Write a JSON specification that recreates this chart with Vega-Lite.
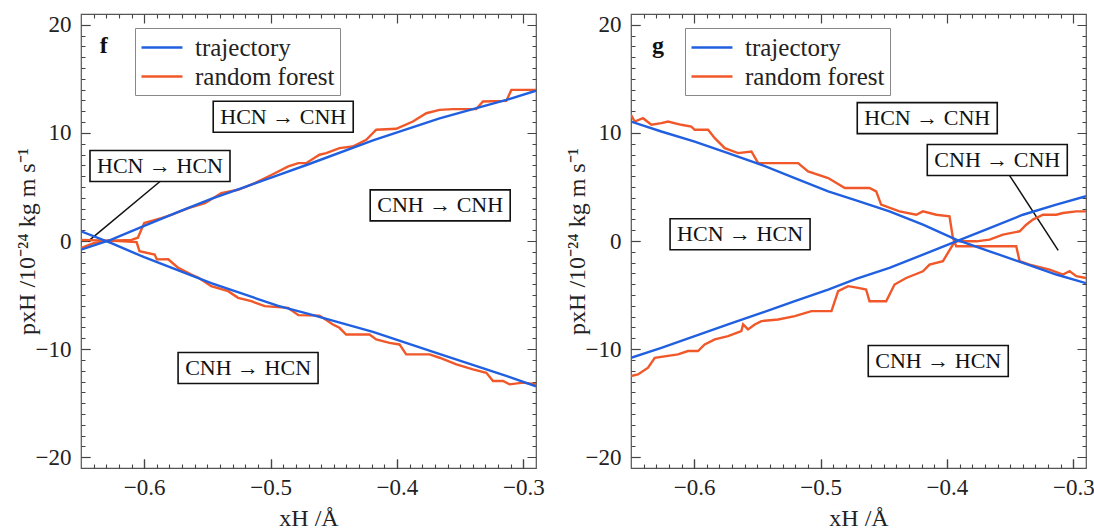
{
  "$schema": "https://vega.github.io/schema/vega-lite/v6.json",
  "background": "white",
  "padding": {"left": 14, "top": 13, "right": 5, "bottom": 0},
  "spacing": 19,
  "config": {
    "font": "Liberation Serif",
    "view": {"stroke": "#555", "strokeWidth": 1.2},
    "axis": {"domain": false, "labelColor": "#222", "labelFont": "Liberation Serif", "labelFontSize": 23, "titleFont": "Liberation Serif", "titleFontSize": 24, "titleFontWeight": "normal", "titleColor": "#222"}
  },
  "datasets": {
    "f_lines": [
      {"x": -0.65, "p": 0.9, "series": "trajectory", "branch": "a"},
      {"x": -0.626, "p": -0.2, "series": "trajectory", "branch": "a"},
      {"x": -0.6, "p": -1.5, "series": "trajectory", "branch": "a"},
      {"x": -0.547, "p": -3.9, "series": "trajectory", "branch": "a"},
      {"x": -0.494, "p": -6.0, "series": "trajectory", "branch": "a"},
      {"x": -0.47, "p": -6.75, "series": "trajectory", "branch": "a"},
      {"x": -0.419, "p": -8.4, "series": "trajectory", "branch": "a"},
      {"x": -0.3666, "p": -10.45, "series": "trajectory", "branch": "a"},
      {"x": -0.313, "p": -12.5, "series": "trajectory", "branch": "a"},
      {"x": -0.29, "p": -13.45, "series": "trajectory", "branch": "a"},
      {"x": -0.65, "p": -0.8, "series": "trajectory", "branch": "b"},
      {"x": -0.626, "p": 0.13, "series": "trajectory", "branch": "b"},
      {"x": -0.6, "p": 1.4, "series": "trajectory", "branch": "b"},
      {"x": -0.573, "p": 2.7, "series": "trajectory", "branch": "b"},
      {"x": -0.547, "p": 3.9, "series": "trajectory", "branch": "b"},
      {"x": -0.52, "p": 5.0, "series": "trajectory", "branch": "b"},
      {"x": -0.494, "p": 6.1, "series": "trajectory", "branch": "b"},
      {"x": -0.47, "p": 7.1, "series": "trajectory", "branch": "b"},
      {"x": -0.419, "p": 9.3, "series": "trajectory", "branch": "b"},
      {"x": -0.3663, "p": 11.35, "series": "trajectory", "branch": "b"},
      {"x": -0.3135, "p": 13.05, "series": "trajectory", "branch": "b"},
      {"x": -0.29, "p": 13.9, "series": "trajectory", "branch": "b"},
      {"x": -0.65, "p": -0.65, "series": "random forest", "branch": "b"},
      {"x": -0.64, "p": -0.2, "series": "random forest", "branch": "b"},
      {"x": -0.63, "p": 0.0, "series": "random forest", "branch": "b"},
      {"x": -0.61, "p": 0.1, "series": "random forest", "branch": "b"},
      {"x": -0.605, "p": 0.3, "series": "random forest", "branch": "b"},
      {"x": -0.6, "p": 1.66, "series": "random forest", "branch": "b"},
      {"x": -0.5864, "p": 2.12, "series": "random forest", "branch": "b"},
      {"x": -0.578, "p": 2.43, "series": "random forest", "branch": "b"},
      {"x": -0.565, "p": 3.05, "series": "random forest", "branch": "b"},
      {"x": -0.552, "p": 3.5, "series": "random forest", "branch": "b"},
      {"x": -0.539, "p": 4.43, "series": "random forest", "branch": "b"},
      {"x": -0.5257, "p": 4.74, "series": "random forest", "branch": "b"},
      {"x": -0.5125, "p": 5.36, "series": "random forest", "branch": "b"},
      {"x": -0.499, "p": 6.13, "series": "random forest", "branch": "b"},
      {"x": -0.486, "p": 6.9, "series": "random forest", "branch": "b"},
      {"x": -0.478, "p": 7.2, "series": "random forest", "branch": "b"},
      {"x": -0.4719, "p": 7.2, "series": "random forest", "branch": "b"},
      {"x": -0.4613, "p": 7.98, "series": "random forest", "branch": "b"},
      {"x": -0.456, "p": 8.13, "series": "random forest", "branch": "b"},
      {"x": -0.4455, "p": 8.59, "series": "random forest", "branch": "b"},
      {"x": -0.435, "p": 8.74, "series": "random forest", "branch": "b"},
      {"x": -0.4243, "p": 9.36, "series": "random forest", "branch": "b"},
      {"x": -0.4164, "p": 10.29, "series": "random forest", "branch": "b"},
      {"x": -0.4006, "p": 10.38, "series": "random forest", "branch": "b"},
      {"x": -0.3874, "p": 11.05, "series": "random forest", "branch": "b"},
      {"x": -0.3768, "p": 11.82, "series": "random forest", "branch": "b"},
      {"x": -0.3663, "p": 12.13, "series": "random forest", "branch": "b"},
      {"x": -0.3557, "p": 12.2, "series": "random forest", "branch": "b"},
      {"x": -0.3373, "p": 12.2, "series": "random forest", "branch": "b"},
      {"x": -0.332, "p": 12.9, "series": "random forest", "branch": "b"},
      {"x": -0.3135, "p": 12.96, "series": "random forest", "branch": "b"},
      {"x": -0.3095, "p": 13.98, "series": "random forest", "branch": "b"},
      {"x": -0.29, "p": 13.98, "series": "random forest", "branch": "b"},
      {"x": -0.65, "p": 0.1, "series": "random forest", "branch": "a"},
      {"x": -0.62, "p": 0.0, "series": "random forest", "branch": "a"},
      {"x": -0.606, "p": -0.1, "series": "random forest", "branch": "a"},
      {"x": -0.6037, "p": -0.95, "series": "random forest", "branch": "a"},
      {"x": -0.5917, "p": -1.26, "series": "random forest", "branch": "a"},
      {"x": -0.59, "p": -1.7, "series": "random forest", "branch": "a"},
      {"x": -0.581, "p": -1.69, "series": "random forest", "branch": "a"},
      {"x": -0.573, "p": -2.49, "series": "random forest", "branch": "a"},
      {"x": -0.5627, "p": -3.1, "series": "random forest", "branch": "a"},
      {"x": -0.557, "p": -3.41, "series": "random forest", "branch": "a"},
      {"x": -0.547, "p": -4.18, "series": "random forest", "branch": "a"},
      {"x": -0.5336, "p": -4.64, "series": "random forest", "branch": "a"},
      {"x": -0.5257, "p": -5.26, "series": "random forest", "branch": "a"},
      {"x": -0.5152, "p": -5.57, "series": "random forest", "branch": "a"},
      {"x": -0.5046, "p": -6.03, "series": "random forest", "branch": "a"},
      {"x": -0.4861, "p": -6.19, "series": "random forest", "branch": "a"},
      {"x": -0.478, "p": -6.86, "series": "random forest", "branch": "a"},
      {"x": -0.4613, "p": -6.9, "series": "random forest", "branch": "a"},
      {"x": -0.4507, "p": -7.72, "series": "random forest", "branch": "a"},
      {"x": -0.4455, "p": -8.03, "series": "random forest", "branch": "a"},
      {"x": -0.4402, "p": -8.65, "series": "random forest", "branch": "a"},
      {"x": -0.4217, "p": -8.65, "series": "random forest", "branch": "a"},
      {"x": -0.4164, "p": -9.1, "series": "random forest", "branch": "a"},
      {"x": -0.4059, "p": -9.42, "series": "random forest", "branch": "a"},
      {"x": -0.398, "p": -9.57, "series": "random forest", "branch": "a"},
      {"x": -0.3927, "p": -10.49, "series": "random forest", "branch": "a"},
      {"x": -0.3742, "p": -10.49, "series": "random forest", "branch": "a"},
      {"x": -0.3663, "p": -10.8, "series": "random forest", "branch": "a"},
      {"x": -0.353, "p": -11.41, "series": "random forest", "branch": "a"},
      {"x": -0.3399, "p": -11.87, "series": "random forest", "branch": "a"},
      {"x": -0.3293, "p": -12.19, "series": "random forest", "branch": "a"},
      {"x": -0.324, "p": -12.95, "series": "random forest", "branch": "a"},
      {"x": -0.3161, "p": -12.95, "series": "random forest", "branch": "a"},
      {"x": -0.3109, "p": -13.26, "series": "random forest", "branch": "a"},
      {"x": -0.3003, "p": -13.1, "series": "random forest", "branch": "a"},
      {"x": -0.29, "p": -13.26, "series": "random forest", "branch": "a"}
    ],
    "g_lines": [
      {"x": -0.65, "p": 11.05, "series": "trajectory", "branch": "a"},
      {"x": -0.626, "p": 10.13, "series": "trajectory", "branch": "a"},
      {"x": -0.5996, "p": 9.2, "series": "trajectory", "branch": "a"},
      {"x": -0.5732, "p": 8.13, "series": "trajectory", "branch": "a"},
      {"x": -0.5468, "p": 7.05, "series": "trajectory", "branch": "a"},
      {"x": -0.5204, "p": 5.82, "series": "trajectory", "branch": "a"},
      {"x": -0.494, "p": 4.59, "series": "trajectory", "branch": "a"},
      {"x": -0.4719, "p": 3.75, "series": "trajectory", "branch": "a"},
      {"x": -0.4455, "p": 2.74, "series": "trajectory", "branch": "a"},
      {"x": -0.419, "p": 1.51, "series": "trajectory", "branch": "a"},
      {"x": -0.3927, "p": 0.13, "series": "trajectory", "branch": "a"},
      {"x": -0.3663, "p": -0.95, "series": "trajectory", "branch": "a"},
      {"x": -0.3399, "p": -2.03, "series": "trajectory", "branch": "a"},
      {"x": -0.3135, "p": -3.1, "series": "trajectory", "branch": "a"},
      {"x": -0.29, "p": -3.9, "series": "trajectory", "branch": "a"},
      {"x": -0.65, "p": -10.8, "series": "trajectory", "branch": "b"},
      {"x": -0.626, "p": -9.88, "series": "trajectory", "branch": "b"},
      {"x": -0.5996, "p": -8.8, "series": "trajectory", "branch": "b"},
      {"x": -0.5732, "p": -7.72, "series": "trajectory", "branch": "b"},
      {"x": -0.5468, "p": -6.65, "series": "trajectory", "branch": "b"},
      {"x": -0.5204, "p": -5.57, "series": "trajectory", "branch": "b"},
      {"x": -0.494, "p": -4.49, "series": "trajectory", "branch": "b"},
      {"x": -0.4719, "p": -3.5, "series": "trajectory", "branch": "b"},
      {"x": -0.4455, "p": -2.49, "series": "trajectory", "branch": "b"},
      {"x": -0.419, "p": -1.26, "series": "trajectory", "branch": "b"},
      {"x": -0.3927, "p": -0.03, "series": "trajectory", "branch": "b"},
      {"x": -0.3663, "p": 1.2, "series": "trajectory", "branch": "b"},
      {"x": -0.3399, "p": 2.43, "series": "trajectory", "branch": "b"},
      {"x": -0.3135, "p": 3.36, "series": "trajectory", "branch": "b"},
      {"x": -0.29, "p": 4.15, "series": "trajectory", "branch": "b"},
      {"x": -0.65, "p": 11.67, "series": "random forest", "branch": "a"},
      {"x": -0.6471, "p": 11.05, "series": "random forest", "branch": "a"},
      {"x": -0.6405, "p": 11.36, "series": "random forest", "branch": "a"},
      {"x": -0.6339, "p": 10.75, "series": "random forest", "branch": "a"},
      {"x": -0.626, "p": 10.9, "series": "random forest", "branch": "a"},
      {"x": -0.6207, "p": 11.05, "series": "random forest", "branch": "a"},
      {"x": -0.6102, "p": 10.75, "series": "random forest", "branch": "a"},
      {"x": -0.6023, "p": 10.59, "series": "random forest", "branch": "a"},
      {"x": -0.5996, "p": 10.29, "series": "random forest", "branch": "a"},
      {"x": -0.589, "p": 10.29, "series": "random forest", "branch": "a"},
      {"x": -0.5837, "p": 9.51, "series": "random forest", "branch": "a"},
      {"x": -0.5758, "p": 8.59, "series": "random forest", "branch": "a"},
      {"x": -0.5653, "p": 8.13, "series": "random forest", "branch": "a"},
      {"x": -0.5547, "p": 8.28, "series": "random forest", "branch": "a"},
      {"x": -0.5494, "p": 7.2, "series": "random forest", "branch": "a"},
      {"x": -0.5178, "p": 7.2, "series": "random forest", "branch": "a"},
      {"x": -0.5099, "p": 6.44, "series": "random forest", "branch": "a"},
      {"x": -0.494, "p": 5.82, "series": "random forest", "branch": "a"},
      {"x": -0.4808, "p": 4.9, "series": "random forest", "branch": "a"},
      {"x": -0.4613, "p": 4.9, "series": "random forest", "branch": "a"},
      {"x": -0.456, "p": 4.59, "series": "random forest", "branch": "a"},
      {"x": -0.4521, "p": 3.36, "series": "random forest", "branch": "a"},
      {"x": -0.4376, "p": 2.74, "series": "random forest", "branch": "a"},
      {"x": -0.4243, "p": 2.43, "series": "random forest", "branch": "a"},
      {"x": -0.419, "p": 2.74, "series": "random forest", "branch": "a"},
      {"x": -0.4085, "p": 2.43, "series": "random forest", "branch": "a"},
      {"x": -0.398, "p": 2.28, "series": "random forest", "branch": "a"},
      {"x": -0.3953, "p": 0.28, "series": "random forest", "branch": "a"},
      {"x": -0.3927, "p": -0.49, "series": "random forest", "branch": "a"},
      {"x": -0.3452, "p": -0.49, "series": "random forest", "branch": "a"},
      {"x": -0.3425, "p": -1.87, "series": "random forest", "branch": "a"},
      {"x": -0.3346, "p": -2.18, "series": "random forest", "branch": "a"},
      {"x": -0.3188, "p": -2.64, "series": "random forest", "branch": "a"},
      {"x": -0.3082, "p": -3.1, "series": "random forest", "branch": "a"},
      {"x": -0.303, "p": -2.79, "series": "random forest", "branch": "a"},
      {"x": -0.2977, "p": -3.26, "series": "random forest", "branch": "a"},
      {"x": -0.29, "p": -3.42, "series": "random forest", "branch": "a"},
      {"x": -0.65, "p": -12.49, "series": "random forest", "branch": "b"},
      {"x": -0.6445, "p": -12.34, "series": "random forest", "branch": "b"},
      {"x": -0.6365, "p": -11.72, "series": "random forest", "branch": "b"},
      {"x": -0.6312, "p": -10.8, "series": "random forest", "branch": "b"},
      {"x": -0.6128, "p": -10.49, "series": "random forest", "branch": "b"},
      {"x": -0.6049, "p": -10.18, "series": "random forest", "branch": "b"},
      {"x": -0.597, "p": -10.18, "series": "random forest", "branch": "b"},
      {"x": -0.5917, "p": -9.57, "series": "random forest", "branch": "b"},
      {"x": -0.5837, "p": -9.1, "series": "random forest", "branch": "b"},
      {"x": -0.5732, "p": -8.8, "series": "random forest", "branch": "b"},
      {"x": -0.5627, "p": -8.34, "series": "random forest", "branch": "b"},
      {"x": -0.5613, "p": -7.72, "series": "random forest", "branch": "b"},
      {"x": -0.5574, "p": -8.18, "series": "random forest", "branch": "b"},
      {"x": -0.5521, "p": -7.72, "series": "random forest", "branch": "b"},
      {"x": -0.5468, "p": -7.41, "series": "random forest", "branch": "b"},
      {"x": -0.5336, "p": -7.26, "series": "random forest", "branch": "b"},
      {"x": -0.5204, "p": -6.95, "series": "random forest", "branch": "b"},
      {"x": -0.5072, "p": -6.49, "series": "random forest", "branch": "b"},
      {"x": -0.4914, "p": -6.49, "series": "random forest", "branch": "b"},
      {"x": -0.4861, "p": -4.64, "series": "random forest", "branch": "b"},
      {"x": -0.4782, "p": -4.18, "series": "random forest", "branch": "b"},
      {"x": -0.4703, "p": -4.34, "series": "random forest", "branch": "b"},
      {"x": -0.464, "p": -4.49, "series": "random forest", "branch": "b"},
      {"x": -0.4613, "p": -5.57, "series": "random forest", "branch": "b"},
      {"x": -0.4481, "p": -5.57, "series": "random forest", "branch": "b"},
      {"x": -0.4415, "p": -4.03, "series": "random forest", "branch": "b"},
      {"x": -0.4323, "p": -3.42, "series": "random forest", "branch": "b"},
      {"x": -0.419, "p": -2.8, "series": "random forest", "branch": "b"},
      {"x": -0.4138, "p": -2.18, "series": "random forest", "branch": "b"},
      {"x": -0.4032, "p": -1.87, "series": "random forest", "branch": "b"},
      {"x": -0.3953, "p": -0.33, "series": "random forest", "branch": "b"},
      {"x": -0.3927, "p": -0.03, "series": "random forest", "branch": "b"},
      {"x": -0.3768, "p": -0.03, "series": "random forest", "branch": "b"},
      {"x": -0.3663, "p": 0.13, "series": "random forest", "branch": "b"},
      {"x": -0.3557, "p": 0.59, "series": "random forest", "branch": "b"},
      {"x": -0.3425, "p": 0.9, "series": "random forest", "branch": "b"},
      {"x": -0.3373, "p": 1.51, "series": "random forest", "branch": "b"},
      {"x": -0.332, "p": 1.98, "series": "random forest", "branch": "b"},
      {"x": -0.324, "p": 2.43, "series": "random forest", "branch": "b"},
      {"x": -0.3135, "p": 2.43, "series": "random forest", "branch": "b"},
      {"x": -0.3082, "p": 2.59, "series": "random forest", "branch": "b"},
      {"x": -0.2977, "p": 2.74, "series": "random forest", "branch": "b"},
      {"x": -0.29, "p": 2.74, "series": "random forest", "branch": "b"}
    ],
    "f_notes": [
      {"x": -0.49, "y": 11.5, "label": "HCN → CNH"},
      {"x": -0.5875, "y": 6.94, "label": "HCN → HCN"},
      {"x": -0.3658, "y": 3.3, "label": "CNH → CNH"},
      {"x": -0.5178, "y": -11.75, "label": "CNH → HCN"}
    ],
    "g_notes": [
      {"x": -0.4156, "y": 11.37, "label": "HCN → CNH"},
      {"x": -0.3602, "y": 7.5, "label": "CNH → CNH"},
      {"x": -0.5637, "y": 0.62, "label": "HCN → HCN"},
      {"x": -0.4069, "y": -11.1, "label": "CNH → HCN"}
    ],
    "f_leader": [{"x": -0.5875, "y": 5.5, "x2": -0.6444, "y2": -0.03}],
    "g_leader": [{"x": -0.3507, "y": 6.1, "x2": -0.312, "y2": -0.86}],
    "f_tag": [{"x": -0.632, "y": 18.0, "label": "f"}],
    "g_tag": [{"x": -0.6286, "y": 18.0, "label": "g"}]
  },
  "resolve": {"scale": {"color": "independent"}, "legend": {"color": "independent"}},
  "hconcat": [
    {
      "width": 455, "height": 454,
      "resolve": {"axis": {"x": "independent", "y": "independent"}},
      "layer": [
        {"data": {"name": "f_tag"}, "mark": {"type": "point", "opacity": 0},
         "encoding": {
           "x": {"field": "x", "type": "quantitative", "scale": {"domain": [-0.65, -0.29], "nice": false, "zero": false}, "axis": {"orient": "top", "values": [-0.6,-0.5,-0.4,-0.3], "labels": false, "title": null, "ticks": false, "grid": true, "gridDash": [9, 436], "gridColor": "#444", "gridWidth": 1.2, "gridOpacity": 1}},
           "y": {"field": "y", "type": "quantitative", "scale": {"domain": [-21, 21], "nice": false, "zero": false}, "axis": {"orient": "right", "values": [-20,-10,0,10,20], "labels": false, "title": null, "ticks": false, "grid": true, "gridDash": [9, 437], "gridColor": "#444", "gridWidth": 1.2, "gridOpacity": 1}}
         }},
        {"data": {"name": "f_tag"}, "mark": {"type": "point", "opacity": 0},
         "encoding": {
           "x": {"field": "x", "type": "quantitative", "scale": {"domain": [-0.65, -0.29], "nice": false, "zero": false}, "axis": {"orient": "top", "values": [-0.64,-0.63,-0.62,-0.61,-0.59,-0.58,-0.57,-0.56,-0.55,-0.54,-0.53,-0.52,-0.51,-0.49,-0.48,-0.47,-0.46,-0.45,-0.44,-0.43,-0.42,-0.41,-0.39,-0.38,-0.37,-0.36,-0.35,-0.34,-0.33,-0.32,-0.31], "labels": false, "title": null, "ticks": false, "grid": true, "gridDash": [4, 446], "gridColor": "#444", "gridWidth": 1.1, "gridOpacity": 1}},
           "y": {"field": "y", "type": "quantitative", "scale": {"domain": [-21, 21], "nice": false, "zero": false}, "axis": {"orient": "right", "values": [-19,-18,-17,-16,-15,-14,-13,-12,-11,-9,-8,-7,-6,-5,-4,-3,-2,-1,1,2,3,4,5,6,7,8,9,11,12,13,14,15,16,17,18,19], "labels": false, "title": null, "ticks": false, "grid": true, "gridDash": [4, 447], "gridColor": "#444", "gridWidth": 1.1, "gridOpacity": 1}}
         }},
        {"data": {"name": "f_leader"}, "mark": {"type": "rule", "color": "#111", "strokeWidth": 1.5},
         "encoding": {
           "x": {"field": "x", "type": "quantitative", "axis": null},
           "y": {"field": "y", "type": "quantitative", "axis": null},
           "x2": {"field": "x2"}, "y2": {"field": "y2"}
         }},
        {"data": {"name": "f_lines"}, "transform": [{"filter": "datum.series === 'random forest'"}],
         "mark": {"type": "line", "strokeWidth": 2.4, "clip": true},
         "encoding": {
           "x": {"field": "x", "type": "quantitative", "scale": {"domain": [-0.65, -0.29], "nice": false, "zero": false}, "axis": {"orient": "bottom", "values": [-0.6,-0.5,-0.4,-0.3], "format": ".1f", "grid": false, "tickSize": 9, "offset": -9, "tickColor": "#444", "tickWidth": 1.2, "labelPadding": 8, "title": "xH /Å", "titlePadding": 7}},
           "y": {"field": "p", "type": "quantitative", "scale": {"domain": [-21, 21], "nice": false, "zero": false}, "axis": {"orient": "left", "values": [-20,-10,0,10,20], "format": "d", "grid": false, "tickSize": 9, "offset": -9, "tickColor": "#444", "tickWidth": 1.2, "labelPadding": 10, "title": "pxH /10⁻²⁴ kg m s⁻¹", "titlePadding": -4}},
           "color": {"field": "series", "type": "nominal", "scale": {"domain": ["trajectory", "random forest"], "range": ["#2060e0", "#f0582a"]},
             "legend": {"orient": "none", "legendX": 54, "legendY": 14, "title": null, "symbolType": "M-1,0L2.15,0", "symbolSize": 676, "symbolStrokeWidth": 2.5, "labelFont": "Liberation Serif", "labelFontSize": 25, "labelColor": "#222", "labelOffset": 26, "padding": 5, "rowPadding": 1, "strokeColor": "#888", "fillColor": "white"}},
           "detail": {"field": "branch"}
         }},
        {"data": {"name": "f_lines"}, "transform": [{"filter": "datum.series === 'trajectory'"}],
         "mark": {"type": "line", "strokeWidth": 2.4, "clip": true},
         "encoding": {
           "x": {"field": "x", "type": "quantitative", "axis": null},
           "y": {"field": "p", "type": "quantitative", "axis": null},
           "color": {"field": "series", "type": "nominal", "scale": {"domain": ["trajectory", "random forest"], "range": ["#2060e0", "#f0582a"]}},
           "detail": {"field": "branch"}
         }},
        {"data": {"name": "f_notes"}, "mark": {"type": "point", "shape": "M-1,-0.2214L1,-0.2214L1,0.2214L-1,0.2214Z", "size": 19600, "filled": true, "fill": "white", "stroke": "#111", "strokeWidth": 1.6, "opacity": 1},
         "encoding": {
           "x": {"field": "x", "type": "quantitative", "axis": null},
           "y": {"field": "y", "type": "quantitative", "axis": null}
         }},
        {"data": {"name": "f_notes"}, "mark": {"type": "text", "font": "Liberation Serif", "fontSize": 22, "color": "#111", "align": "center", "baseline": "middle"},
         "encoding": {
           "x": {"field": "x", "type": "quantitative", "axis": null},
           "y": {"field": "y", "type": "quantitative", "axis": null},
           "text": {"field": "label"}
         }},
        {"data": {"name": "f_tag"}, "mark": {"type": "text", "font": "Liberation Serif", "fontSize": 24, "fontWeight": "bold", "color": "#111", "align": "center", "baseline": "middle"},
         "encoding": {
           "x": {"field": "x", "type": "quantitative", "axis": null},
           "y": {"field": "y", "type": "quantitative", "axis": null},
           "text": {"field": "label"}
         }}
      ]
    },
    {
      "width": 455, "height": 454,
      "resolve": {"axis": {"x": "independent", "y": "independent"}},
      "layer": [
        {"data": {"name": "g_tag"}, "mark": {"type": "point", "opacity": 0},
         "encoding": {
           "x": {"field": "x", "type": "quantitative", "scale": {"domain": [-0.65, -0.29], "nice": false, "zero": false}, "axis": {"orient": "top", "values": [-0.6,-0.5,-0.4,-0.3], "labels": false, "title": null, "ticks": false, "grid": true, "gridDash": [9, 436], "gridColor": "#444", "gridWidth": 1.2, "gridOpacity": 1}},
           "y": {"field": "y", "type": "quantitative", "scale": {"domain": [-21, 21], "nice": false, "zero": false}, "axis": {"orient": "right", "values": [-20,-10,0,10,20], "labels": false, "title": null, "ticks": false, "grid": true, "gridDash": [9, 437], "gridColor": "#444", "gridWidth": 1.2, "gridOpacity": 1}}
         }},
        {"data": {"name": "g_tag"}, "mark": {"type": "point", "opacity": 0},
         "encoding": {
           "x": {"field": "x", "type": "quantitative", "scale": {"domain": [-0.65, -0.29], "nice": false, "zero": false}, "axis": {"orient": "top", "values": [-0.64,-0.63,-0.62,-0.61,-0.59,-0.58,-0.57,-0.56,-0.55,-0.54,-0.53,-0.52,-0.51,-0.49,-0.48,-0.47,-0.46,-0.45,-0.44,-0.43,-0.42,-0.41,-0.39,-0.38,-0.37,-0.36,-0.35,-0.34,-0.33,-0.32,-0.31], "labels": false, "title": null, "ticks": false, "grid": true, "gridDash": [4, 446], "gridColor": "#444", "gridWidth": 1.1, "gridOpacity": 1}},
           "y": {"field": "y", "type": "quantitative", "scale": {"domain": [-21, 21], "nice": false, "zero": false}, "axis": {"orient": "right", "values": [-19,-18,-17,-16,-15,-14,-13,-12,-11,-9,-8,-7,-6,-5,-4,-3,-2,-1,1,2,3,4,5,6,7,8,9,11,12,13,14,15,16,17,18,19], "labels": false, "title": null, "ticks": false, "grid": true, "gridDash": [4, 447], "gridColor": "#444", "gridWidth": 1.1, "gridOpacity": 1}}
         }},
        {"data": {"name": "g_leader"}, "mark": {"type": "rule", "color": "#111", "strokeWidth": 1.5},
         "encoding": {
           "x": {"field": "x", "type": "quantitative", "axis": null},
           "y": {"field": "y", "type": "quantitative", "axis": null},
           "x2": {"field": "x2"}, "y2": {"field": "y2"}
         }},
        {"data": {"name": "g_lines"}, "transform": [{"filter": "datum.series === 'random forest'"}],
         "mark": {"type": "line", "strokeWidth": 2.4, "clip": true},
         "encoding": {
           "x": {"field": "x", "type": "quantitative", "scale": {"domain": [-0.65, -0.29], "nice": false, "zero": false}, "axis": {"orient": "bottom", "values": [-0.6,-0.5,-0.4,-0.3], "format": ".1f", "grid": false, "tickSize": 9, "offset": -9, "tickColor": "#444", "tickWidth": 1.2, "labelPadding": 8, "title": "xH /Å", "titlePadding": 7}},
           "y": {"field": "p", "type": "quantitative", "scale": {"domain": [-21, 21], "nice": false, "zero": false}, "axis": {"orient": "left", "values": [-20,-10,0,10,20], "format": "d", "grid": false, "tickSize": 9, "offset": -9, "tickColor": "#444", "tickWidth": 1.2, "labelPadding": 10, "title": "pxH /10⁻²⁴ kg m s⁻¹", "titlePadding": -4}},
           "color": {"field": "series", "type": "nominal", "scale": {"domain": ["trajectory", "random forest"], "range": ["#2060e0", "#f0582a"]},
             "legend": {"orient": "none", "legendX": 54, "legendY": 14, "title": null, "symbolType": "M-1,0L2.15,0", "symbolSize": 676, "symbolStrokeWidth": 2.5, "labelFont": "Liberation Serif", "labelFontSize": 25, "labelColor": "#222", "labelOffset": 26, "padding": 5, "rowPadding": 1, "strokeColor": "#888", "fillColor": "white"}},
           "detail": {"field": "branch"}
         }},
        {"data": {"name": "g_lines"}, "transform": [{"filter": "datum.series === 'trajectory'"}],
         "mark": {"type": "line", "strokeWidth": 2.4, "clip": true},
         "encoding": {
           "x": {"field": "x", "type": "quantitative", "axis": null},
           "y": {"field": "p", "type": "quantitative", "axis": null},
           "color": {"field": "series", "type": "nominal", "scale": {"domain": ["trajectory", "random forest"], "range": ["#2060e0", "#f0582a"]}},
           "detail": {"field": "branch"}
         }},
        {"data": {"name": "g_notes"}, "mark": {"type": "point", "shape": "M-1,-0.2214L1,-0.2214L1,0.2214L-1,0.2214Z", "size": 19600, "filled": true, "fill": "white", "stroke": "#111", "strokeWidth": 1.6, "opacity": 1},
         "encoding": {
           "x": {"field": "x", "type": "quantitative", "axis": null},
           "y": {"field": "y", "type": "quantitative", "axis": null}
         }},
        {"data": {"name": "g_notes"}, "mark": {"type": "text", "font": "Liberation Serif", "fontSize": 22, "color": "#111", "align": "center", "baseline": "middle"},
         "encoding": {
           "x": {"field": "x", "type": "quantitative", "axis": null},
           "y": {"field": "y", "type": "quantitative", "axis": null},
           "text": {"field": "label"}
         }},
        {"data": {"name": "g_tag"}, "mark": {"type": "text", "font": "Liberation Serif", "fontSize": 24, "fontWeight": "bold", "color": "#111", "align": "center", "baseline": "middle"},
         "encoding": {
           "x": {"field": "x", "type": "quantitative", "axis": null},
           "y": {"field": "y", "type": "quantitative", "axis": null},
           "text": {"field": "label"}
         }}
      ]
    }
  ]
}
